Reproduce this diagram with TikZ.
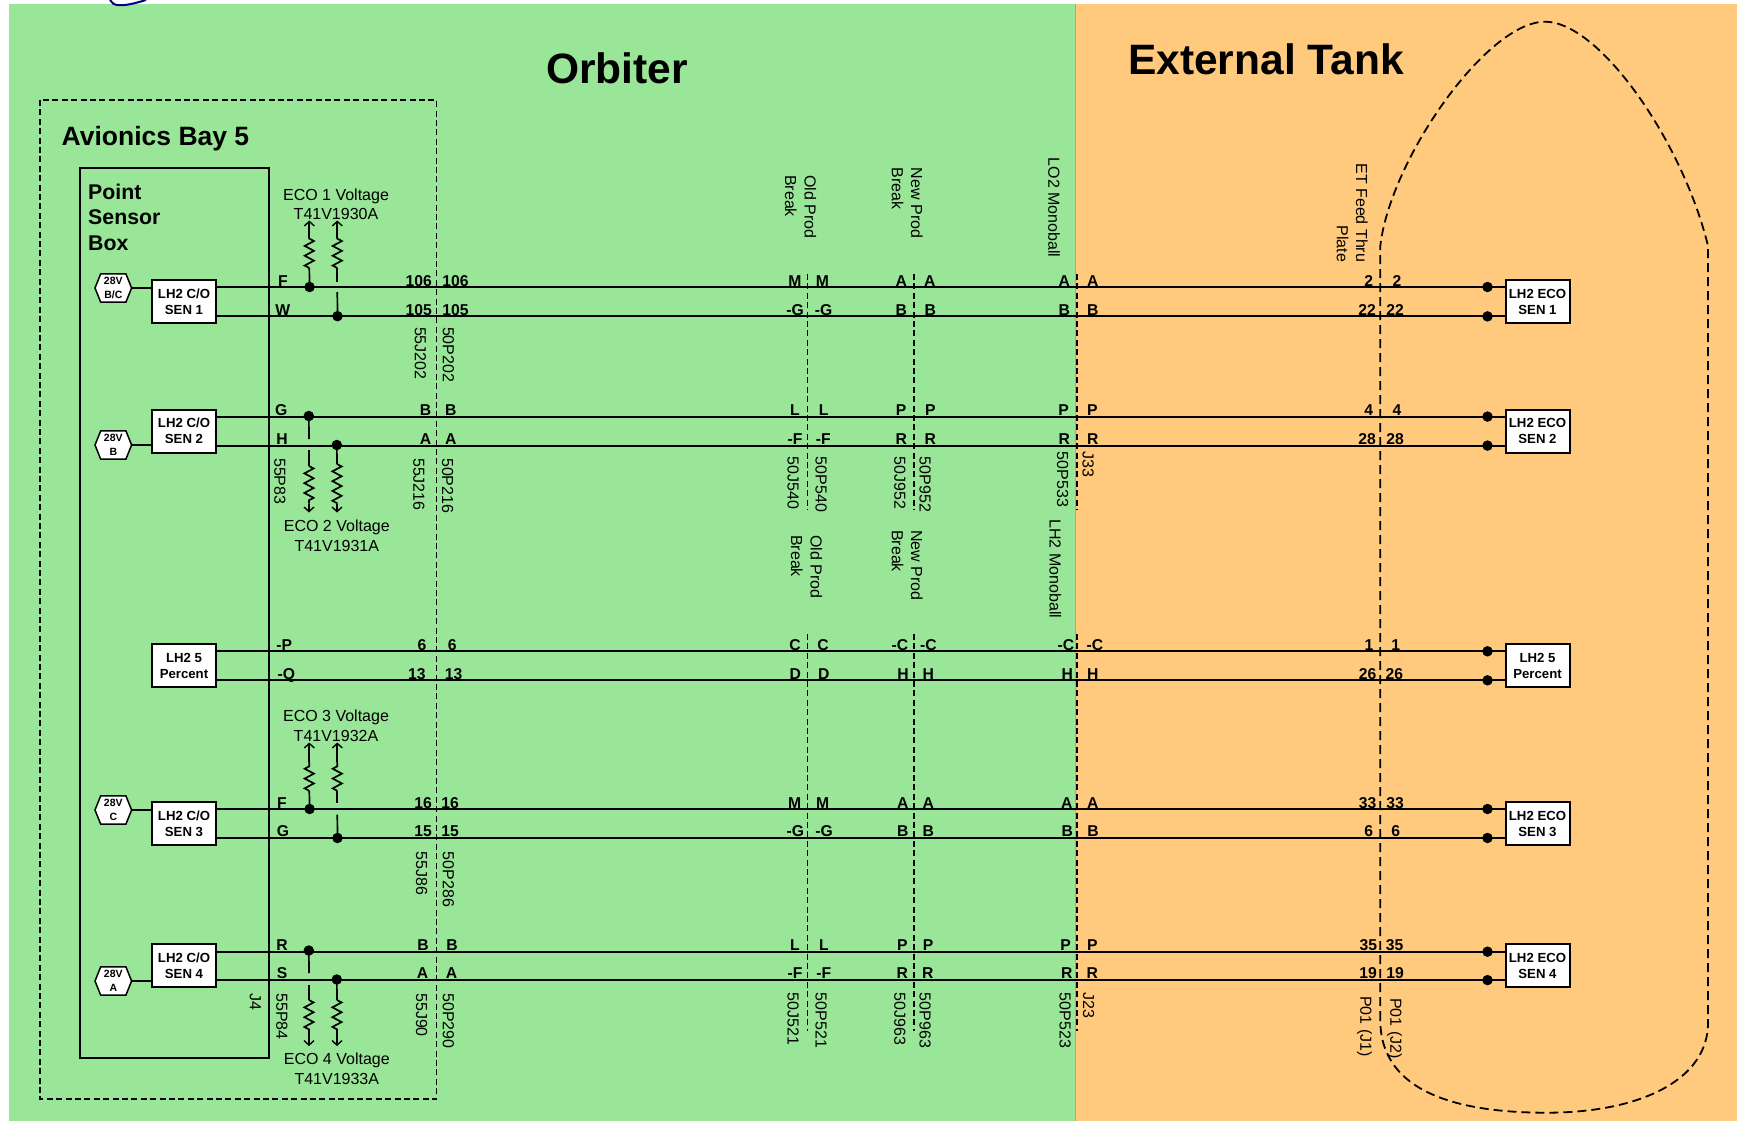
\documentclass[tikz,border=0pt]{standalone}
\usepackage{fontspec}
\setmainfont{Liberation Sans}
\usetikzlibrary{arrows.meta,decorations.pathmorphing}
\definecolor{orbgreen}{HTML}{99E699}
\definecolor{etorange}{HTML}{FFCA7D}
\newcounter{lbl}
\newcommand{\wl}[3]{\stepcounter{lbl}\node[wirelab] (wl\arabic{lbl}) at (#1,#2) {#3};}
\newcommand{\rl}[3]{\stepcounter{lbl}\node[rotlab] (rl\arabic{lbl}) at ({#1-5.7},#2) {#3};}
\newcommand{\rml}[4]{\stepcounter{lbl}\node[rotlab,align=#4,anchor=north west,inner sep=0pt] (rl\arabic{lbl}) at ({#1+7},#2) {#3};}
\newcommand{\sensors}[5]{%
  \node[sensbox] (L#1) at (184,#2) {#3};
  \node[sensbox] (R#1) at (1537.5,#2) {#4};
  \draw[wire] ([yshift=#5pt]L#1.east) -- ([yshift=#5pt]R#1.west);
  \draw[wire] ([yshift=-#5pt]L#1.east) -- ([yshift=-#5pt]R#1.west);
  \node[dot] (A#1) at ([yshift=#5pt,xshift=-17pt]R#1.west) {};
  \node[dot] (B#1) at ([yshift=-#5pt,xshift=-17pt]R#1.west) {};
}
\newcommand{\hexa}[3]{%
  \coordinate (#1c) at (113.3,#2);
  \draw[hexline] ([xshift=-18.3pt]#1c) -- ([xshift=-12.6pt,yshift=14.2pt]#1c) -- ([xshift=12.6pt,yshift=14.2pt]#1c) -- ([xshift=18.3pt]#1c) -- ([xshift=12.6pt,yshift=-14.2pt]#1c) -- ([xshift=-12.6pt,yshift=-14.2pt]#1c) -- cycle;
  \node[hexbox] (#1) at (#1c) {#3};
  \coordinate (#1e) at ([xshift=18.3pt]#1c);
}
% tap lead: start node, x, zigzag start y, zigzag end y, tip y
\newcommand{\lead}[5]{%
  \stepcounter{lbl}%
  \coordinate (za\arabic{lbl}) at (#2,#3);
  \coordinate (zb\arabic{lbl}) at (#2,#4);
  \coordinate (zt\arabic{lbl}) at (#2,#5);
  \draw[thinwire] #1 -- (za\arabic{lbl});
  \draw[thinwire,zz] (za\arabic{lbl}) -- (zb\arabic{lbl});
  \draw[thinwire,tip] (zb\arabic{lbl}) -- (zt\arabic{lbl});
}
\tikzset{
  wire/.style={line width=2pt,black},
  thinwire/.style={line width=1.7pt,black},
  zz/.style={decorate,decoration={zigzag,segment length=9.8pt,amplitude=4.6pt}},
  tip/.style={-{Straight Barb[length=4.5pt,width=10pt,line width=1.4pt]}},
  dot/.style={circle,fill=black,inner sep=0pt,minimum size=10.5pt},
  sensbox/.style={draw=black,line width=2pt,fill=white,minimum width=64pt,minimum height=43pt,inner sep=0pt,align=center,font=\fontsize{13.2}{16}\selectfont\bfseries},
  hexline/.style={line width=1.5pt,fill=white,line join=miter},
  hexbox/.style={inner sep=0pt,align=center,font=\fontsize{10.5}{13.5}\selectfont\bfseries},
  wirelab/.style={anchor=base,inner sep=0pt,font=\fontsize{15.7}{18}\selectfont\bfseries},
  rotlab/.style={rotate=-90,anchor=base west,inner sep=0pt,font=\fontsize{16}{19.4}\selectfont},
  titlelab/.style={anchor=base,inner sep=0pt,font=\fontsize{42.5}{50}\selectfont\bfseries},
  headlab/.style={anchor=base west,inner sep=0pt,font=\fontsize{26.5}{30}\selectfont\bfseries},
  voltlab/.style={anchor=base,inner sep=0pt,align=center,font=\fontsize{16}{19.6}\selectfont},
  bound/.style={line width=1.5pt,dash pattern=on 6pt off 3.4pt},
  tank/.style={line width=1.8pt,dash pattern=on 9pt off 5pt},
}
\begin{document}
\begin{tikzpicture}[x=1pt,y=-1pt]
\useasboundingbox (0,0) rectangle (1743,1121);
\fill[white] (0,0) rectangle (1743,1121);
\fill[orbgreen] (9,4) rectangle (1075.7,1121);
\fill[etorange] (1075.7,4) rectangle (1737,1121);
\draw[line width=0.8pt,color=green!45!orange!70!black!60] (1075.7,4) -- (1075.7,1121);
\draw[line width=2pt,color=blue!55!black] (110,0) .. controls (113,6) and (120,8) .. (146,0);

% titles
\node[titlelab] (orb) at (617,84) {Orbiter};
\node[titlelab] (ext) at (1266,74.5) {External Tank};
\node[headlab] (bay) at (61.5,146) {Avionics Bay 5};

% boundaries
\draw[bound] (40,100) rectangle (436.7,1099);
\draw[line width=2.2pt] (79.6,168) rectangle (269,1058);
\node[anchor=base west,inner sep=0pt,align=left,font=\fontsize{21.3}{25.5}\selectfont\bfseries] (psb) at (88,250) {Point\\Sensor\\Box};

% tank outline
\draw[tank] (1380.3,1020) -- (1380.3,246)
  .. controls (1390,160) and (1486.7,21.7) .. (1545,21.7)
  .. controls (1600,21.7) and (1683.3,143.3) .. (1708,246)
  -- (1708,1023)
  .. controls (1708,1080) and (1640,1112.7) .. (1546.7,1112.7)
  .. controls (1460,1112.7) and (1380.3,1093.3) .. (1380.3,1020);

% connector dashed verticals
\foreach \nm/\x in {o/807.7,n/914.2,m/1076.8}{
  \coordinate (\nm a) at (\x,274); \coordinate (\nm b) at (\x,510);
  \coordinate (\nm c) at (\x,634); \coordinate (\nm d) at (\x,1031);
  \draw[bound] (\nm a) -- (\nm b);
  \draw[bound] (\nm c) -- (\nm d);
}

% sensors and wires
\sensors{1}{301.7}{LH2 C/O\\SEN 1}{LH2 ECO\\SEN 1}{14.7}
\sensors{2}{431.1}{LH2 C/O\\SEN 2}{LH2 ECO\\SEN 2}{14.5}
\sensors{3}{665.8}{LH2 5\\Percent}{LH2 5\\Percent}{14.5}
\sensors{4}{823.5}{LH2 C/O\\SEN 3}{LH2 ECO\\SEN 3}{14.5}
\sensors{5}{965.9}{LH2 C/O\\SEN 4}{LH2 ECO\\SEN 4}{14.2}

% 28V hexagons
\hexa{h1}{288}{28V\\B/C}
\hexa{h2}{445}{28V\\B}
\hexa{h3}{810}{28V\\C}
\hexa{h4}{981}{28V\\A}
\draw[wire] (h1e) -- (L1.west |- h1e);
\draw[wire] (h2e) -- (L2.west |- h2e);
\draw[wire] (h3e) -- (L4.west |- h3e);
\draw[wire] (h4e) -- (L5.west |- h4e);

% junction dots
\node[dot] (j1) at (309.6,287) {};
\node[dot] (j2) at (337.5,316.2) {};
\node[dot] (j3) at (308.8,416) {};
\node[dot] (j4) at (336.8,445) {};
\node[dot] (j5) at (309.6,809) {};
\node[dot] (j6) at (337.5,838) {};
\node[dot] (j7) at (308.8,950.5) {};
\node[dot] (j8) at (336.8,979.5) {};

% voltage tap leads
\lead{(j1.center)}{309.3}{268}{238}{220.5}
\coordinate (c2a) at (337.3,292); \coordinate (c2b) at (337.3,282);
\draw[thinwire] (j2.center) -- (c2a);
\lead{(c2b)}{337.3}{268}{238}{220.5}
\coordinate (c3a) at (309,439); \coordinate (c3b) at (309,450);
\draw[thinwire] (j3.center) -- (c3a);
\lead{(c3b)}{309}{466}{503.6}{512.5}
\lead{(j4.center)}{337}{464}{503.6}{512.5}
\lead{(j5.center)}{309.3}{790.8}{762}{742.5}
\coordinate (c6a) at (337.3,814.7); \coordinate (c6b) at (337.3,803);
\draw[thinwire] (j6.center) -- (c6a);
\lead{(c6b)}{337.3}{790.8}{762}{742.5}
\coordinate (c7a) at (309,973); \coordinate (c7b) at (309,985);
\draw[thinwire] (j7.center) -- (c7a);
\lead{(c7b)}{309}{1000}{1034}{1046}
\lead{(j8.center)}{337}{1000}{1034}{1046}

% voltage labels
\node[voltlab] (v1) at (336,219.8) {ECO 1 Voltage\\T41V1930A};
\node[voltlab] (v2) at (336.8,551.2) {ECO 2 Voltage\\T41V1931A};
\node[voltlab] (v3) at (336,741) {ECO 3 Voltage\\T41V1932A};
\node[voltlab] (v4) at (336.8,1084.5) {ECO 4 Voltage\\T41V1933A};

% row 1
\wl{282.8}{286}{F}\wl{418.7}{286}{106}\wl{455.4}{286}{106}
\wl{795}{286}{M}\wl{822.3}{286}{M}\wl{901.3}{286}{A}\wl{929.7}{286}{A}
\wl{1064.3}{286}{A}\wl{1092.7}{286}{A}\wl{1368.7}{286}{2}\wl{1397}{286}{2}
\wl{282.8}{315.2}{W}\wl{418.7}{315.2}{105}\wl{455.4}{315.2}{105}
\wl{795}{315.2}{-G}\wl{823.7}{315.2}{-G}\wl{901.3}{315.2}{B}\wl{930.3}{315.2}{B}
\wl{1064.3}{315.2}{B}\wl{1092.7}{315.2}{B}\wl{1367}{315.2}{22}\wl{1395}{315.2}{22}
% row 2
\wl{281.3}{415.5}{G}\wl{425.6}{415.5}{B}\wl{450.8}{415.5}{B}
\wl{795}{415.5}{L}\wl{823.7}{415.5}{L}\wl{901}{415.5}{P}\wl{930.3}{415.5}{P}
\wl{1063.7}{415.5}{P}\wl{1092.3}{415.5}{P}\wl{1368.7}{415.5}{4}\wl{1397}{415.5}{4}
\wl{282}{444.6}{H}\wl{425.6}{444.6}{A}\wl{450.8}{444.6}{A}
\wl{795}{444.6}{-F}\wl{823.3}{444.6}{-F}\wl{901.3}{444.6}{R}\wl{930.3}{444.6}{R}
\wl{1064.3}{444.6}{R}\wl{1092.7}{444.6}{R}\wl{1367}{444.6}{28}\wl{1395}{444.6}{28}
% row 3
\wl{284.3}{650}{-P}\wl{422}{650}{6}\wl{452.3}{650}{6}
\wl{795}{650}{C}\wl{823}{650}{C}\wl{900}{650}{-C}\wl{928.3}{650}{-C}
\wl{1066}{650}{-C}\wl{1095}{650}{-C}\wl{1369}{650}{1}\wl{1395.7}{650}{1}
\wl{286.3}{679}{-Q}\wl{416.8}{679}{13}\wl{453.5}{679}{13}
\wl{795.3}{679}{D}\wl{823.7}{679}{D}\wl{903}{679}{H}\wl{928.3}{679}{H}
\wl{1067.3}{679}{H}\wl{1092.7}{679}{H}\wl{1367.7}{679}{26}\wl{1394.3}{679}{26}
% row 4
\wl{282}{808}{F}\wl{423}{808}{16}\wl{450}{808}{16}
\wl{794.7}{808}{M}\wl{822.7}{808}{M}\wl{902.7}{808}{A}\wl{928.3}{808}{A}
\wl{1066.7}{808}{A}\wl{1092.7}{808}{A}\wl{1367.7}{808}{33}\wl{1395}{808}{33}
\wl{283}{836.8}{G}\wl{423}{836.8}{15}\wl{450}{836.8}{15}
\wl{795.3}{836.8}{-G}\wl{824}{836.8}{-G}\wl{902.7}{836.8}{B}\wl{928.3}{836.8}{B}
\wl{1067.3}{836.8}{B}\wl{1093}{836.8}{B}\wl{1368.7}{836.8}{6}\wl{1395.7}{836.8}{6}
% row 5
\wl{282}{950.7}{R}\wl{423}{950.7}{B}\wl{452}{950.7}{B}
\wl{795}{950.7}{L}\wl{824}{950.7}{L}\wl{902.3}{950.7}{P}\wl{928}{950.7}{P}
\wl{1065.7}{950.7}{P}\wl{1092.3}{950.7}{P}\wl{1368.3}{950.7}{35}\wl{1394.7}{950.7}{35}
\wl{282}{978.8}{S}\wl{422.5}{978.8}{A}\wl{451.6}{978.8}{A}
\wl{795}{978.8}{-F}\wl{823.7}{978.8}{-F}\wl{902.3}{978.8}{R}\wl{927.7}{978.8}{R}
\wl{1066.7}{978.8}{R}\wl{1092.3}{978.8}{R}\wl{1368}{978.8}{19}\wl{1395}{978.8}{19}

% rotated connector labels
\rl{420.6}{326.8}{55J202}\rl{448.5}{326.8}{50P202}
\rl{280.1}{458}{55P83}\rl{419}{458}{55J216}\rl{447.8}{458}{50P216}
\rl{793.3}{456.7}{50J540}\rl{821.3}{456.7}{50P540}\rl{900}{456.7}{50J952}\rl{925.3}{456.7}{50P952}
\rl{1062.7}{451.7}{50P533}\rl{1088.3}{451.7}{J33}
\rl{421.7}{851.6}{55J86}\rl{448.5}{851.6}{50P286}
\rl{255.6}{993}{J4}\rl{282}{993}{55P84}\rl{421.7}{993}{55J90}\rl{448.5}{993}{50P290}
\rl{793.3}{992.7}{50J521}\rl{821.3}{992.7}{50P521}\rl{900}{992.7}{50J963}\rl{925.3}{992.7}{50P963}
\rl{1065.3}{992.7}{50P523}\rl{1088.7}{992.7}{J23}
\rl{1366}{996}{P01 (J1)}\rl{1396}{998}{P01 (J2)}
\rl{1054}{157.7}{LO2 Monoball}\rl{1055.3}{519.3}{LH2 Monoball}

% rotated two-line labels
\rml{809.3}{175}{Old Prod\\Break}{left}
\rml{916}{167.7}{New Prod\\Break}{left}
\rml{815.3}{535}{Old Prod\\Break}{left}
\rml{916}{530}{New Prod\\Break}{left}
\rml{1361}{163.3}{ET Feed Thru\\Plate}{right}
\end{tikzpicture}
\end{document}
